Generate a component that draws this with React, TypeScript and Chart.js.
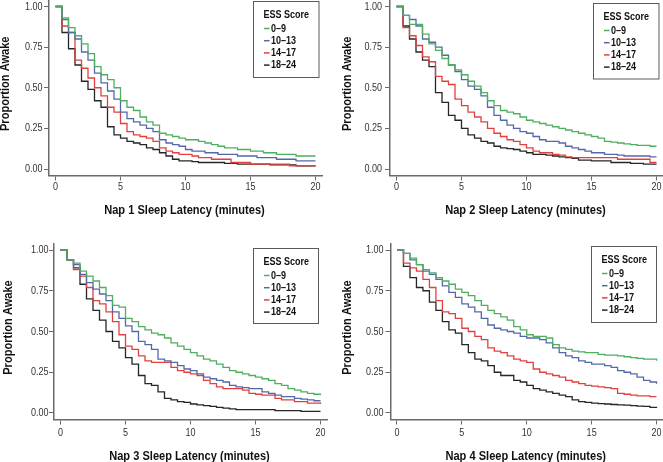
import { useEffect, useRef } from 'react';
import { Chart, registerables } from 'chart.js';

Chart.register(...registerables);

// ---------- DATA ----------
const latencyMinutes = [
  0, 0.5, 1, 1.5, 2, 2.5, 3, 3.5, 4, 4.5, 5, 5.5, 6, 6.5, 7, 7.5, 8, 8.5, 9, 9.5, 10,
  10.5, 11, 11.5, 12, 12.5, 13, 13.5, 14, 14.5, 15, 15.5, 16, 16.5, 17, 17.5, 18, 18.5, 19, 19.5, 20,
];

const essGroups = ['0–9', '10–13', '14–17', '18–24'];

const xTickValues = [0, 5, 10, 15, 20];
const yTickValues = [0, 0.25, 0.5, 0.75, 1];

const xAxisTitles = [
  'Nap 1 Sleep Latency (minutes)',
  'Nap 2 Sleep Latency (minutes)',
  'Nap 3 Sleep Latency (minutes)',
  'Nap 4 Sleep Latency (minutes)',
];
const yAxisTitle = 'Proportion Awake';
const legendTitle = 'ESS Score';

// Nap 1
const nap1Ess0to9 = [1.0, 0.93, 0.87, 0.82, 0.77, 0.71, 0.63, 0.58, 0.55, 0.5, 0.42, 0.38, 0.36, 0.32, 0.29, 0.27, 0.22, 0.21, 0.2, 0.19, 0.18, 0.18, 0.17, 0.16, 0.15, 0.14, 0.13, 0.13, 0.12, 0.12, 0.11, 0.11, 0.1, 0.1, 0.09, 0.09, 0.09, 0.08, 0.08, 0.08, 0.08];
const nap1Ess10to13 = [1.0, 0.92, 0.84, 0.8, 0.72, 0.67, 0.59, 0.53, 0.48, 0.43, 0.35, 0.31, 0.29, 0.27, 0.25, 0.23, 0.18, 0.16, 0.15, 0.14, 0.12, 0.11, 0.11, 0.1, 0.1, 0.09, 0.09, 0.09, 0.08, 0.08, 0.08, 0.07, 0.07, 0.07, 0.06, 0.06, 0.06, 0.05, 0.05, 0.05, 0.05];
const nap1Ess14to17 = [1.0, 0.88, 0.84, 0.67, 0.62, 0.56, 0.5, 0.45, 0.38, 0.35, 0.28, 0.23, 0.21, 0.2, 0.19, 0.17, 0.13, 0.11, 0.1, 0.09, 0.09, 0.08, 0.07, 0.07, 0.06, 0.06, 0.06, 0.04, 0.04, 0.04, 0.03, 0.03, 0.03, 0.03, 0.03, 0.03, 0.02, 0.02, 0.02, 0.02, 0.02];
const nap1Ess18to24 = [1.0, 0.84, 0.74, 0.64, 0.54, 0.49, 0.42, 0.38, 0.26, 0.21, 0.19, 0.17, 0.16, 0.15, 0.13, 0.12, 0.1, 0.08, 0.06, 0.05, 0.05, 0.045, 0.04, 0.04, 0.04, 0.04, 0.035, 0.035, 0.03, 0.03, 0.03, 0.03, 0.03, 0.025, 0.025, 0.025, 0.025, 0.02, 0.02, 0.02, 0.02];

// Nap 2
const nap2Ess0to9 = [1.0, 0.945, 0.89, 0.89, 0.83, 0.77, 0.73, 0.68, 0.64, 0.61, 0.58, 0.54, 0.51, 0.47, 0.42, 0.39, 0.36, 0.35, 0.34, 0.32, 0.3, 0.29, 0.28, 0.27, 0.26, 0.25, 0.24, 0.23, 0.22, 0.21, 0.2, 0.19, 0.17, 0.165, 0.16, 0.155, 0.15, 0.145, 0.145, 0.14, 0.14];
const nap2Ess10to13 = [1.0, 0.945, 0.92, 0.88, 0.8, 0.78, 0.75, 0.7, 0.64, 0.6, 0.55, 0.51, 0.49, 0.45, 0.38, 0.33, 0.3, 0.27, 0.25, 0.23, 0.22, 0.2, 0.18, 0.17, 0.17, 0.16, 0.14, 0.13, 0.12, 0.11, 0.1, 0.1, 0.09, 0.09, 0.085, 0.08, 0.08, 0.08, 0.08, 0.075, 0.075];
const nap2Ess14to17 = [1.0, 0.87, 0.82, 0.76, 0.69, 0.66, 0.57, 0.54, 0.52, 0.43, 0.39, 0.35, 0.32, 0.29, 0.25, 0.22, 0.2, 0.18, 0.17, 0.15, 0.13, 0.11, 0.1, 0.1, 0.09, 0.085, 0.075, 0.07, 0.07, 0.07, 0.07, 0.07, 0.07, 0.07, 0.06, 0.06, 0.06, 0.06, 0.06, 0.04, 0.04];
const nap2Ess18to24 = [1.0, 0.88, 0.8, 0.72, 0.67, 0.63, 0.47, 0.41, 0.33, 0.3, 0.25, 0.21, 0.19, 0.17, 0.16, 0.14, 0.13, 0.125, 0.12, 0.11, 0.1, 0.09, 0.09, 0.085, 0.08, 0.075, 0.07, 0.065, 0.055, 0.055, 0.05, 0.05, 0.05, 0.04, 0.04, 0.04, 0.035, 0.035, 0.03, 0.03, 0.03];

// Nap 3
const nap3Ess0to9 = [1.0, 0.94, 0.92, 0.87, 0.84, 0.81, 0.77, 0.72, 0.66, 0.65, 0.58, 0.56, 0.53, 0.51, 0.49, 0.48, 0.46, 0.43, 0.41, 0.39, 0.37, 0.35, 0.33, 0.32, 0.3, 0.28, 0.26, 0.25, 0.24, 0.23, 0.22, 0.21, 0.2, 0.18, 0.17, 0.15, 0.14, 0.13, 0.12, 0.115, 0.11];
const nap3Ess10to13 = [1.0, 0.94, 0.91, 0.85, 0.8, 0.76, 0.73, 0.69, 0.62, 0.58, 0.535, 0.5, 0.44, 0.42, 0.39, 0.33, 0.32, 0.31, 0.29, 0.27, 0.26, 0.24, 0.22, 0.21, 0.2, 0.19, 0.17, 0.16, 0.155, 0.15, 0.15, 0.13, 0.12, 0.11, 0.1, 0.1, 0.09, 0.085, 0.08, 0.075, 0.075];
const nap3Ess14to17 = [1.0, 0.94, 0.88, 0.84, 0.77, 0.69, 0.67, 0.62, 0.56, 0.48, 0.41, 0.39, 0.35, 0.32, 0.31, 0.31, 0.31, 0.28, 0.26, 0.25, 0.24, 0.23, 0.2, 0.18, 0.16, 0.15, 0.15, 0.15, 0.14, 0.12, 0.115, 0.11, 0.11, 0.09, 0.08, 0.08, 0.07, 0.07, 0.06, 0.06, 0.055];
const nap3Ess18to24 = [1.0, 0.94, 0.89, 0.79, 0.7, 0.63, 0.57, 0.5, 0.44, 0.4, 0.34, 0.3, 0.23, 0.18, 0.17, 0.13, 0.09, 0.08, 0.07, 0.065, 0.055, 0.05, 0.045, 0.04, 0.035, 0.03, 0.025, 0.02, 0.02, 0.02, 0.02, 0.02, 0.02, 0.015, 0.015, 0.015, 0.015, 0.01, 0.01, 0.01, 0.01];

// Nap 4
const nap4Ess0to9 = [1.0, 0.98, 0.95, 0.91, 0.88, 0.86, 0.83, 0.81, 0.79, 0.76, 0.74, 0.72, 0.69, 0.66, 0.63, 0.61, 0.59, 0.57, 0.53, 0.51, 0.48, 0.47, 0.47, 0.46, 0.42, 0.4, 0.39, 0.38, 0.375, 0.37, 0.37, 0.36, 0.355, 0.355, 0.35, 0.345, 0.34, 0.335, 0.33, 0.33, 0.32];
const nap4Ess10to13 = [1.0, 0.98, 0.94, 0.91, 0.87, 0.85, 0.82, 0.78, 0.74, 0.71, 0.67, 0.65, 0.62, 0.58, 0.54, 0.52, 0.51, 0.5, 0.49, 0.47, 0.46, 0.46, 0.45, 0.43, 0.4, 0.37, 0.35, 0.34, 0.32, 0.31, 0.3, 0.3, 0.29, 0.28, 0.26, 0.25, 0.24, 0.22, 0.2, 0.19, 0.18];
const nap4Ess14to17 = [1.0, 0.92, 0.89, 0.87, 0.82, 0.77, 0.69, 0.62, 0.61, 0.58, 0.52, 0.5, 0.47, 0.45, 0.4, 0.38, 0.37, 0.35, 0.33, 0.32, 0.31, 0.27, 0.25, 0.24, 0.23, 0.22, 0.2, 0.19, 0.18, 0.17, 0.165, 0.16, 0.155, 0.15, 0.12, 0.115, 0.11, 0.105, 0.105, 0.1, 0.1];
const nap4Ess18to24 = [1.0, 0.9, 0.83, 0.77, 0.75, 0.68, 0.63, 0.56, 0.51, 0.49, 0.42, 0.37, 0.33, 0.32, 0.29, 0.25, 0.23, 0.23, 0.2, 0.19, 0.17, 0.15, 0.14, 0.13, 0.12, 0.11, 0.1, 0.08, 0.07, 0.065, 0.06, 0.058, 0.055, 0.052, 0.05, 0.048, 0.045, 0.042, 0.04, 0.035, 0.03];

const napSeries = [
  [nap1Ess0to9, nap1Ess10to13, nap1Ess14to17, nap1Ess18to24],
  [nap2Ess0to9, nap2Ess10to13, nap2Ess14to17, nap2Ess18to24],
  [nap3Ess0to9, nap3Ess10to13, nap3Ess14to17, nap3Ess18to24],
  [nap4Ess0to9, nap4Ess10to13, nap4Ess14to17, nap4Ess18to24],
];

// ---------- STYLE / LAYOUT ----------
const groupColors = ['#4DAF5F', '#5468A8', '#E0403F', '#262626'];
const FONT = '"Liberation Sans", Arial, sans-serif';
const NARROW = 0.82; // horizontal condensing to emulate a narrow sans face
const AXIS_COLOR = '#6a6a6a';
const TICK_LEN = 5;

type PanelLayout = {
  left: number; top: number; width: number; height: number;
  padTop: number; padRight: number; yAxisWidth: number; xAxisHeight: number;
  xTickDy: number; yTickGap: number; xTitleY: number; yTitleX: number;
  legend: { x: number; y: number; w: number; h: number };
};

const panelLayouts: PanelLayout[] = [
  { left: 0, top: 0, width: 331, height: 231, padTop: 0, padRight: 9, yAxisWidth: 49, xAxisHeight: 55.5, xTickDy: 11.7, yTickGap: 6.5, xTitleY: 210, yTitleX: 5, legend: { x: 253.5, y: 1.5, w: 65.5, h: 76 } },
  { left: 331, top: 0, width: 332, height: 231, padTop: 0, padRight: 0, yAxisWidth: 59, xAxisHeight: 55.5, xTickDy: 11.7, yTickGap: 8, xTitleY: 210, yTitleX: 16, legend: { x: 262.5, y: 3.5, w: 65.5, h: 75.5 } },
  { left: 0, top: 231, width: 331, height: 231, padTop: 12.5, padRight: 4, yAxisWidth: 54, xAxisHeight: 42.5, xTickDy: 13.8, yTickGap: 5.5, xTitleY: 225, yTitleX: 8.5, legend: { x: 253.5, y: 17.5, w: 65, h: 75 } },
  { left: 331, top: 231, width: 332, height: 231, padTop: 12.5, padRight: 0, yAxisWidth: 59.5, xAxisHeight: 42.5, xTickDy: 13.8, yTickGap: 7, xTitleY: 225, yTitleX: 16, legend: { x: 260.5, y: 15.5, w: 65, h: 76 } },
];

function narrowText(
  ctx: CanvasRenderingContext2D, text: string, x: number, y: number,
  font: string, color: string, align: CanvasTextAlign, rotate = 0,
) {
  ctx.save();
  ctx.translate(x, y);
  if (rotate) ctx.rotate(rotate);
  ctx.scale(NARROW, 1);
  ctx.font = font;
  ctx.fillStyle = color;
  ctx.textAlign = align;
  ctx.textBaseline = 'middle';
  ctx.fillText(text, 0, 0);
  ctx.restore();
}

const axisTextPlugin = {
  id: 'axisText',
  afterDraw(chart: any, _args: any, opts: any) {
    const { ctx, chartArea, scales } = chart;
    const xs = scales.x;
    const ys = scales.y;
    const tickFont = `11px ${FONT}`;
    const titleFont = `bold 13.5px ${FONT}`;
    xs.ticks.forEach((t: any) => {
      narrowText(ctx, String(t.value), xs.getPixelForValue(t.value), chartArea.bottom + opts.xTickDy, tickFont, '#333333', 'center');
    });
    ys.ticks.forEach((t: any) => {
      narrowText(ctx, Number(t.value).toFixed(2), chartArea.left - opts.yTickGap, ys.getPixelForValue(t.value), tickFont, '#333333', 'right');
    });
    const xMid = (xs.getPixelForValue(xTickValues[0]) + xs.getPixelForValue(xTickValues[xTickValues.length - 1])) / 2;
    narrowText(ctx, opts.xTitle, xMid - 1, opts.xTitleY, titleFont, '#111111', 'center');
    const yMid = (chartArea.top + chartArea.bottom) / 2 - 4;
    narrowText(ctx, opts.yTitle, opts.yTitleX, yMid, titleFont, '#111111', 'center', -Math.PI / 2);
  },
};

const boxLegendPlugin = {
  id: 'essLegend',
  afterDraw(chart: any, _args: any, opts: any) {
    const { ctx } = chart;
    const { x, y, w, h } = opts;
    ctx.save();
    ctx.fillStyle = '#ffffff';
    ctx.fillRect(x, y, w, h);
    ctx.strokeStyle = '#5a5a5a';
    ctx.lineWidth = 1;
    ctx.strokeRect(x, y, w, h);
    ctx.restore();
    const f = `bold 11px ${FONT}`;
    narrowText(ctx, opts.title, x + 10, y + 13.5, f, '#111111', 'left');
    chart.data.datasets.forEach((ds: any, i: number) => {
      const ry = y + 27 + i * 12.2;
      ctx.save();
      ctx.strokeStyle = ds.borderColor;
      ctx.lineWidth = 1.5;
      ctx.beginPath();
      ctx.moveTo(x + 10.5, ry);
      ctx.lineTo(x + 16, ry);
      ctx.stroke();
      ctx.restore();
      narrowText(ctx, ds.label, x + 17.5, ry, f, '#111111', 'left');
    });
  },
};

function Panel({ index }: { index: number }) {
  const ref = useRef<HTMLCanvasElement | null>(null);
  const L = panelLayouts[index];

  useEffect(() => {
    if (!ref.current) return;
    const datasets = napSeries[index].map((series, g) => ({
      label: essGroups[g],
      data: latencyMinutes.map((m, i) => ({ x: m, y: series[i] })),
      borderColor: groupColors[g],
      borderWidth: 1.3,
      pointRadius: 0,
      fill: false,
      stepped: 'before' as const,
    }));
    const chart = new Chart(ref.current, {
      type: 'line',
      data: { datasets },
      plugins: [axisTextPlugin, boxLegendPlugin],
      options: {
        animation: false,
        responsive: false,
        devicePixelRatio: 1,
        layout: { padding: { left: 0, top: L.padTop, right: L.padRight, bottom: 0 } },
        plugins: {
          legend: { display: false },
          tooltip: { enabled: false },
          essLegend: { ...L.legend, title: legendTitle },
          axisText: { xTickDy: L.xTickDy, yTickGap: L.yTickGap, xTitleY: L.xTitleY, yTitleX: L.yTitleX, xTitle: xAxisTitles[index], yTitle: yAxisTitle },
        } as any,
        scales: {
          x: {
            type: 'linear',
            min: -0.5,
            max: 20.5,
            afterBuildTicks: (s: any) => { s.ticks = xTickValues.map((v) => ({ value: v })); },
            afterFit: (s: any) => { s.height = L.xAxisHeight; },
            grid: { display: true, drawOnChartArea: false, drawTicks: true, tickLength: TICK_LEN, color: AXIS_COLOR, lineWidth: 1 },
            border: { display: true, color: AXIS_COLOR, width: 1.5 },
            ticks: { display: false },
            title: { display: false },
          },
          y: {
            type: 'linear',
            min: -0.04,
            max: 1.04,
            afterBuildTicks: (s: any) => { s.ticks = yTickValues.map((v) => ({ value: v })); },
            afterFit: (s: any) => { s.width = L.yAxisWidth; },
            grid: { display: true, drawOnChartArea: false, drawTicks: true, tickLength: TICK_LEN, color: AXIS_COLOR, lineWidth: 1 },
            border: { display: true, color: AXIS_COLOR, width: 1.5 },
            ticks: { display: false },
            title: { display: false },
          },
        },
      },
    });
    return () => chart.destroy();
  }, [index]);

  return (
    <div style={{ position: 'absolute', left: L.left, top: L.top, width: L.width, height: L.height }}>
      <canvas ref={ref} width={L.width} height={L.height} style={{ width: L.width, height: L.height, display: 'block' }} />
    </div>
  );
}

export default function App() {
  return (
    <div style={{ position: 'absolute', left: 0, top: 0, width: 663, height: 462, background: '#ffffff', overflow: 'hidden' }}>
      {napSeries.map((_, i) => (
        <Panel key={i} index={i} />
      ))}
    </div>
  );
}
